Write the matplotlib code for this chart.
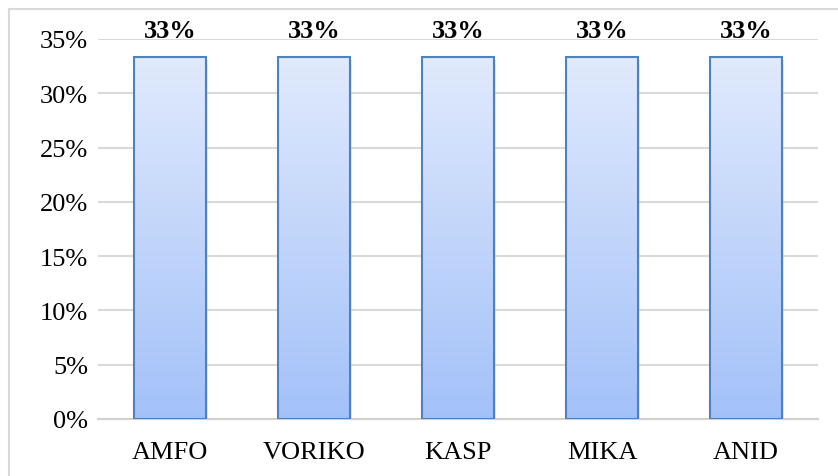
import numpy as np
import matplotlib
matplotlib.use("Agg")
import matplotlib.pyplot as plt
from matplotlib.colors import LinearSegmentedColormap
from matplotlib.lines import Line2D

categories = ["AMFO", "VORIKO", "KASP", "MIKA", "ANID"]
values = [33.3, 33.3, 33.3, 33.3, 33.3]
labels = ["33%", "33%", "33%", "33%", "33%"]
yticks = [0, 5, 10, 15, 20, 25, 30, 35]

plt.rcParams['font.family'] = ['Liberation Serif', 'DejaVu Serif']

fig = plt.figure(figsize=(8.38, 4.77), dpi=100)
ax = fig.add_axes([98 / 838, 57 / 477, 720 / 838, 380 / 477])

grad = LinearSegmentedColormap.from_list("bargrad", ["#a3c1f9", "#e0eafc"])
x = np.arange(len(categories))
bars = ax.bar(x, values, width=0.5, facecolor="none", edgecolor="#4f81bd",
              linewidth=1.5, zorder=3)

# gradient fill clipped to each bar
g = np.linspace(0, 1, 256).reshape(-1, 1)
for b in bars:
    x0, w, h = b.get_x(), b.get_width(), b.get_height()
    im = ax.imshow(g, cmap=grad, origin="lower", aspect="auto",
                   extent=[x0, x0 + w, 0, h], zorder=2)
    im.set_clip_path(b)
    # soft shadow
    ax.bar(x0 + w / 2 + 0.012, h, width=w, bottom=-0.25, color="#bbbbbb",
           alpha=0.35, zorder=1.5, linewidth=0)

for xi, v, lab in zip(x, values, labels):
    ax.text(xi, 35.15, lab, ha="center", va="baseline", fontsize=19,
            fontweight="bold", clip_on=False, zorder=4)

ax.set_xlim(-0.5, len(categories) - 0.5)
ax.set_ylim(0, 35)
ax.set_yticks(yticks)
ax.set_yticklabels([f"{t}%" for t in yticks], fontsize=19)
ax.set_xticks(x)
ax.set_xticklabels(categories, fontsize=19)
ax.tick_params(axis="both", length=0)
ax.tick_params(axis="y", pad=7)
ax.tick_params(axis="x", pad=16)

ax.grid(axis="y", color="#d9d9d9", linewidth=1.5, zorder=0)
ax.set_axisbelow(True)
for s in ["top", "right", "left"]:
    ax.spines[s].set_visible(False)
ax.spines["bottom"].set_color("#d0d0d0")
ax.spines["bottom"].set_linewidth(1.5)

# outer chart frame (top and left edges visible)
fig.add_artist(Line2D([9 / 838, 9 / 838], [0, 1 - 10 / 477],
                      color="#d9d9d9", linewidth=1.5))
fig.add_artist(Line2D([9 / 838, 1], [1 - 10 / 477, 1 - 10 / 477],
                      color="#d9d9d9", linewidth=1.5))

fig.savefig("out.png", dpi=100)
